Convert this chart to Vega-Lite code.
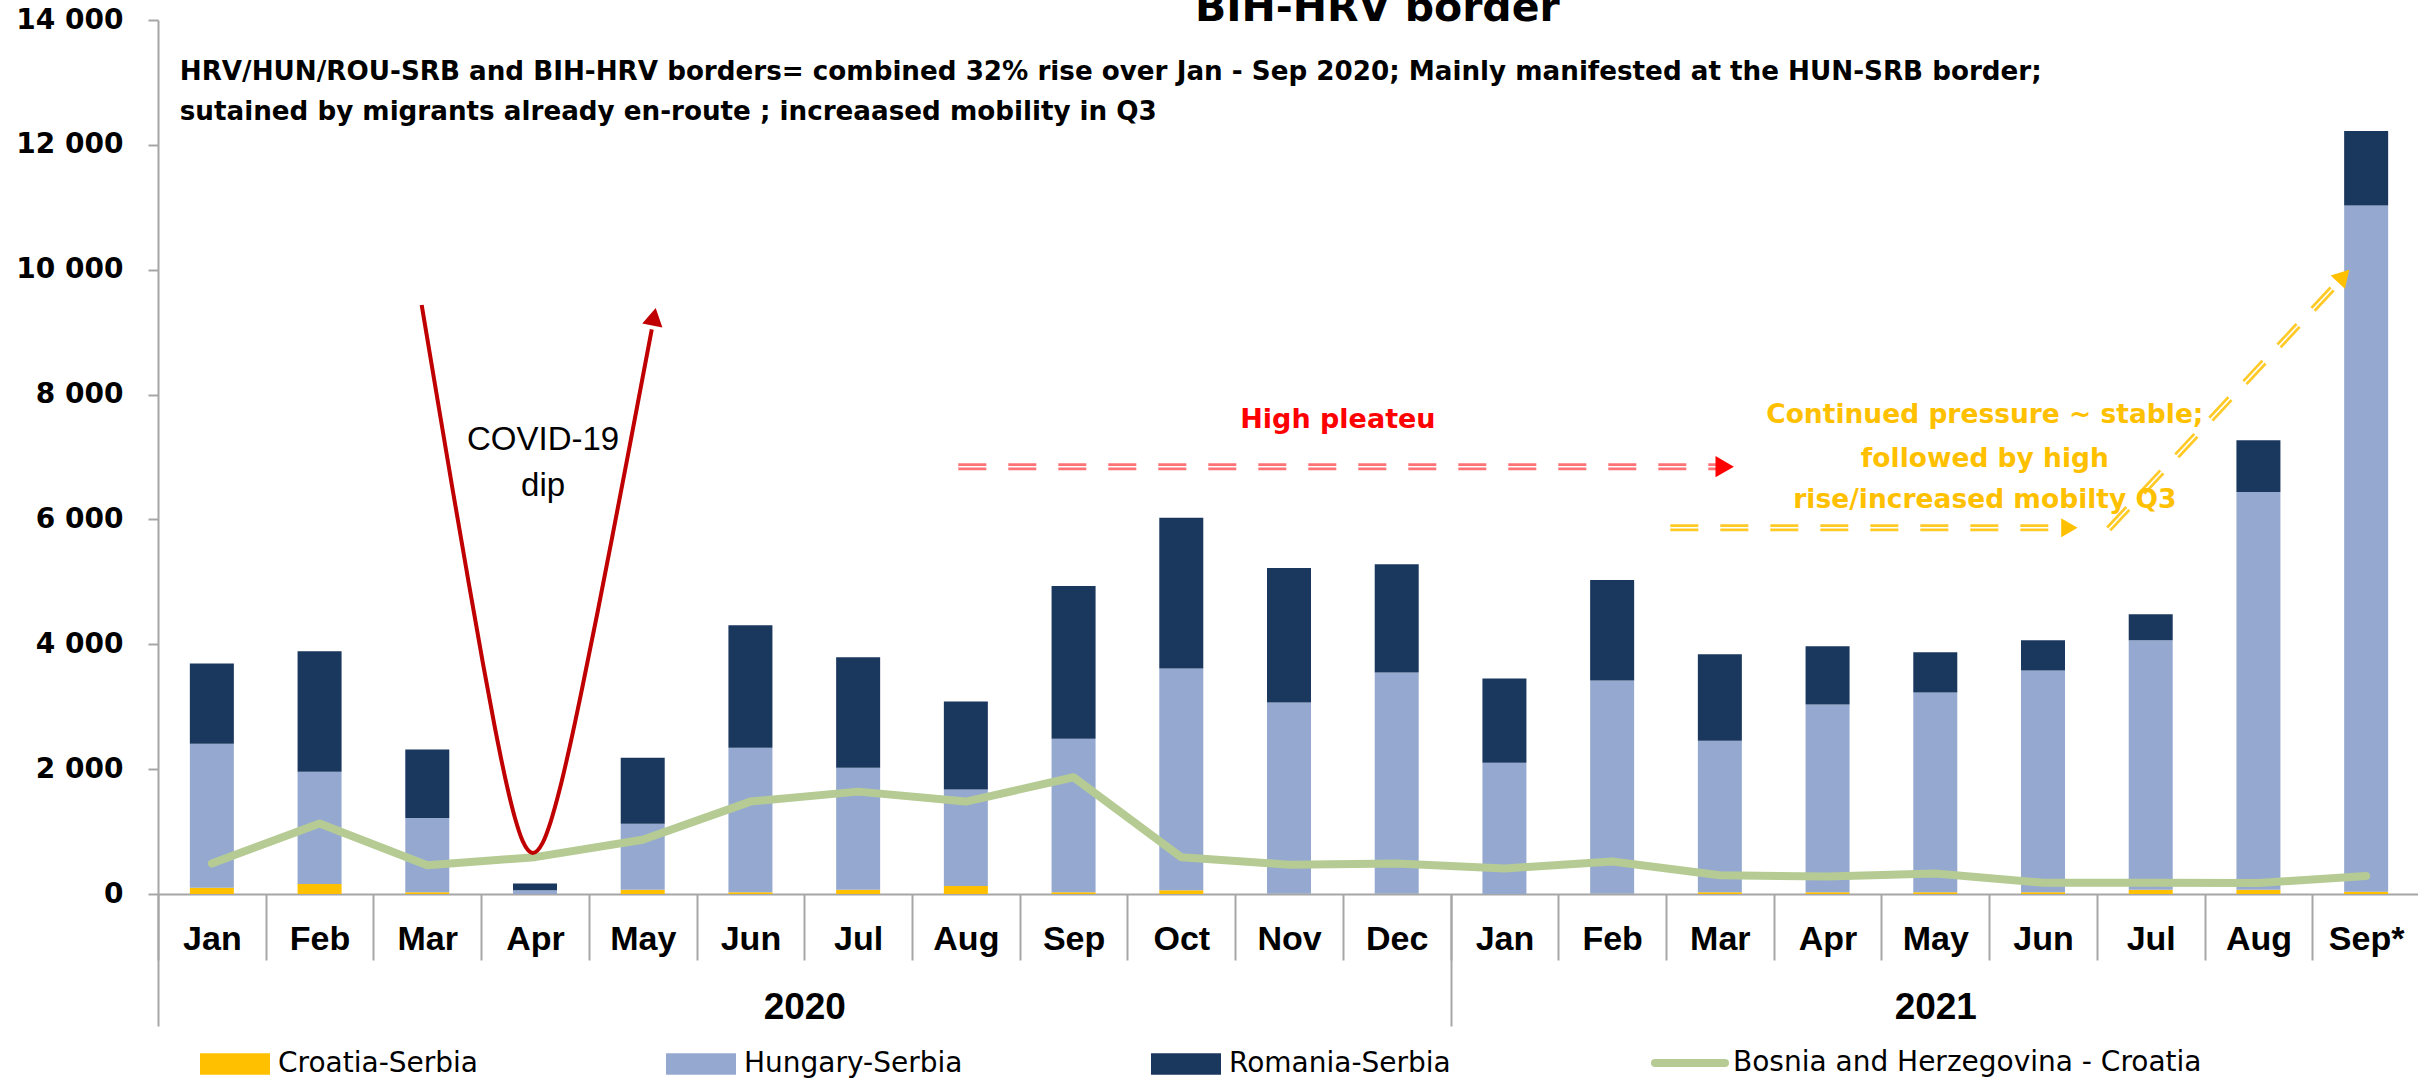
{
  "$schema": "https://vega.github.io/schema/vega-lite/v6.json",
  "width": 2262,
  "height": 874,
  "autosize": {"type": "none"},
  "padding": {"left": 158, "top": 20, "right": 0, "bottom": 187},
  "background": "white",
  "config": {"view": {"stroke": null}, "scale": {"continuousPadding": 0}},
  "datasets": {
    "bars": [
      {"i": 0, "s": "Croatia-Serbia", "k": 1, "v": 100}, {"i": 0, "s": "Hungary-Serbia", "k": 2, "v": 2307}, {"i": 0, "s": "Romania-Serbia", "k": 3, "v": 1287},
      {"i": 1, "s": "Croatia-Serbia", "k": 1, "v": 160}, {"i": 1, "s": "Hungary-Serbia", "k": 2, "v": 1797}, {"i": 1, "s": "Romania-Serbia", "k": 3, "v": 1930},
      {"i": 2, "s": "Croatia-Serbia", "k": 1, "v": 30}, {"i": 2, "s": "Hungary-Serbia", "k": 2, "v": 1187}, {"i": 2, "s": "Romania-Serbia", "k": 3, "v": 1099},
      {"i": 3, "s": "Croatia-Serbia", "k": 1, "v": 0}, {"i": 3, "s": "Hungary-Serbia", "k": 2, "v": 60}, {"i": 3, "s": "Romania-Serbia", "k": 3, "v": 110},
      {"i": 4, "s": "Croatia-Serbia", "k": 1, "v": 70}, {"i": 4, "s": "Hungary-Serbia", "k": 2, "v": 1056}, {"i": 4, "s": "Romania-Serbia", "k": 3, "v": 1056},
      {"i": 5, "s": "Croatia-Serbia", "k": 1, "v": 30}, {"i": 5, "s": "Hungary-Serbia", "k": 2, "v": 2313}, {"i": 5, "s": "Romania-Serbia", "k": 3, "v": 1963},
      {"i": 6, "s": "Croatia-Serbia", "k": 1, "v": 70}, {"i": 6, "s": "Hungary-Serbia", "k": 2, "v": 1951}, {"i": 6, "s": "Romania-Serbia", "k": 3, "v": 1770},
      {"i": 7, "s": "Croatia-Serbia", "k": 1, "v": 130}, {"i": 7, "s": "Hungary-Serbia", "k": 2, "v": 1543}, {"i": 7, "s": "Romania-Serbia", "k": 3, "v": 1410},
      {"i": 8, "s": "Croatia-Serbia", "k": 1, "v": 30}, {"i": 8, "s": "Hungary-Serbia", "k": 2, "v": 2458}, {"i": 8, "s": "Romania-Serbia", "k": 3, "v": 2445},
      {"i": 9, "s": "Croatia-Serbia", "k": 1, "v": 60}, {"i": 9, "s": "Hungary-Serbia", "k": 2, "v": 3554}, {"i": 9, "s": "Romania-Serbia", "k": 3, "v": 2413},
      {"i": 10, "s": "Croatia-Serbia", "k": 1, "v": 5}, {"i": 10, "s": "Hungary-Serbia", "k": 2, "v": 3062}, {"i": 10, "s": "Romania-Serbia", "k": 3, "v": 2155},
      {"i": 11, "s": "Croatia-Serbia", "k": 1, "v": 5}, {"i": 11, "s": "Hungary-Serbia", "k": 2, "v": 3545}, {"i": 11, "s": "Romania-Serbia", "k": 3, "v": 1732},
      {"i": 12, "s": "Croatia-Serbia", "k": 1, "v": 0}, {"i": 12, "s": "Hungary-Serbia", "k": 2, "v": 2102}, {"i": 12, "s": "Romania-Serbia", "k": 3, "v": 1351},
      {"i": 13, "s": "Croatia-Serbia", "k": 1, "v": 5}, {"i": 13, "s": "Hungary-Serbia", "k": 2, "v": 3416}, {"i": 13, "s": "Romania-Serbia", "k": 3, "v": 1608},
      {"i": 14, "s": "Croatia-Serbia", "k": 1, "v": 30}, {"i": 14, "s": "Hungary-Serbia", "k": 2, "v": 2426}, {"i": 14, "s": "Romania-Serbia", "k": 3, "v": 1383},
      {"i": 15, "s": "Croatia-Serbia", "k": 1, "v": 30}, {"i": 15, "s": "Hungary-Serbia", "k": 2, "v": 3005}, {"i": 15, "s": "Romania-Serbia", "k": 3, "v": 933},
      {"i": 16, "s": "Croatia-Serbia", "k": 1, "v": 30}, {"i": 16, "s": "Hungary-Serbia", "k": 2, "v": 3198}, {"i": 16, "s": "Romania-Serbia", "k": 3, "v": 643},
      {"i": 17, "s": "Croatia-Serbia", "k": 1, "v": 30}, {"i": 17, "s": "Hungary-Serbia", "k": 2, "v": 3552}, {"i": 17, "s": "Romania-Serbia", "k": 3, "v": 482},
      {"i": 18, "s": "Croatia-Serbia", "k": 1, "v": 70}, {"i": 18, "s": "Hungary-Serbia", "k": 2, "v": 3994}, {"i": 18, "s": "Romania-Serbia", "k": 3, "v": 419},
      {"i": 19, "s": "Croatia-Serbia", "k": 1, "v": 70}, {"i": 19, "s": "Hungary-Serbia", "k": 2, "v": 6370}, {"i": 19, "s": "Romania-Serbia", "k": 3, "v": 830},
      {"i": 20, "s": "Croatia-Serbia", "k": 1, "v": 35}, {"i": 20, "s": "Hungary-Serbia", "k": 2, "v": 10995}, {"i": 20, "s": "Romania-Serbia", "k": 3, "v": 1190}
    ],
    "bih": [
      {"i": 0, "s": "Bosnia and Herzegovina - Croatia", "v": 490},
      {"i": 1, "s": "Bosnia and Herzegovina - Croatia", "v": 1130},
      {"i": 2, "s": "Bosnia and Herzegovina - Croatia", "v": 460},
      {"i": 3, "s": "Bosnia and Herzegovina - Croatia", "v": 590},
      {"i": 4, "s": "Bosnia and Herzegovina - Croatia", "v": 870},
      {"i": 5, "s": "Bosnia and Herzegovina - Croatia", "v": 1480},
      {"i": 6, "s": "Bosnia and Herzegovina - Croatia", "v": 1640},
      {"i": 7, "s": "Bosnia and Herzegovina - Croatia", "v": 1480},
      {"i": 8, "s": "Bosnia and Herzegovina - Croatia", "v": 1870},
      {"i": 9, "s": "Bosnia and Herzegovina - Croatia", "v": 590},
      {"i": 10, "s": "Bosnia and Herzegovina - Croatia", "v": 470},
      {"i": 11, "s": "Bosnia and Herzegovina - Croatia", "v": 490},
      {"i": 12, "s": "Bosnia and Herzegovina - Croatia", "v": 410},
      {"i": 13, "s": "Bosnia and Herzegovina - Croatia", "v": 520},
      {"i": 14, "s": "Bosnia and Herzegovina - Croatia", "v": 300},
      {"i": 15, "s": "Bosnia and Herzegovina - Croatia", "v": 280},
      {"i": 16, "s": "Bosnia and Herzegovina - Croatia", "v": 330},
      {"i": 17, "s": "Bosnia and Herzegovina - Croatia", "v": 180},
      {"i": 18, "s": "Bosnia and Herzegovina - Croatia", "v": 180},
      {"i": 19, "s": "Bosnia and Herzegovina - Croatia", "v": 175},
      {"i": 20, "s": "Bosnia and Herzegovina - Croatia", "v": 290}
    ]
  },
  "resolve": {"axis": {"x": "independent"}},
  "layer": [
    {
      "data": {"name": "bars"},
      "mark": {"type": "bar", "width": 44},
      "encoding": {
        "x": {
          "field": "i", "type": "quantitative", "title": null,
          "scale": {"domain": [-0.5, 20.5], "nice": false, "zero": false, "padding": 0},
          "axis": {
            "orient": "bottom", "values": [0, 1, 2, 3, 4, 5, 6, 7, 8, 9, 10, 11, 12, 13, 14, 15, 16, 17, 18, 19, 20],
            "ticks": false, "domain": true, "domainColor": "#A6A6A6", "domainWidth": 2,
            "labelFont": "Liberation Sans", "labelFontWeight": "bold", "labelFontSize": 34, "labelColor": "#000000",
            "labelPadding": 28, "labelAngle": 0, "labelFlush": false, "labelOverlap": false, "labelBound": false, "grid": false, "title": null,
            "labelExpr": "datum.value == 20 ? 'Sep*' : ['Jan','Feb','Mar','Apr','May','Jun','Jul','Aug','Sep','Oct','Nov','Dec'][datum.value % 12]"
          }
        },
        "y": {
          "field": "v", "type": "quantitative", "stack": "zero", "title": null,
          "scale": {"domain": [0, 14000], "nice": false, "zero": true},
          "axis": {
            "orient": "left", "values": [0, 2000, 4000, 6000, 8000, 10000, 12000, 14000],
            "labelExpr": "replace(format(datum.value, ','), ',', ' ')",
            "labelFont": "DejaVu Sans", "labelFontWeight": "bold", "labelFontSize": 28, "labelColor": "#000000",
            "labelPadding": 25, "tickSize": 10, "tickColor": "#A6A6A6", "tickWidth": 2, "ticks": true, "domain": true,
            "domainColor": "#A6A6A6", "domainWidth": 2, "grid": false, "title": null, "labelFlush": false, "labelOverlap": false
          }
        },
        "color": {
          "field": "s", "type": "nominal",
          "scale": {
            "domain": ["Croatia-Serbia", "Hungary-Serbia", "Romania-Serbia", "Bosnia and Herzegovina - Croatia"],
            "range": ["#FFC000", "#95A9D0", "#1A375E", "#B5CB93"]
          },
          "legend": {
            "orient": "none", "legendX": 63, "legendY": 1029, "direction": "horizontal", "title": null,
            "labelFont": "DejaVu Sans", "labelFontSize": 28, "labelColor": "#000000", "labelLimit": 700,
            "symbolSize": 4900, "labelOffset": 29, "columnPadding": 188, "padding": 0,
            "symbolType": "M-1,-0.31H1V0.31H-1Z", "symbolStrokeWidth": 0,
            "encode": {
              "symbols": {
                "update": {
                  "shape": {"signal": "datum.value == 'Bosnia and Herzegovina - Croatia' ? 'M-1,0H1' : 'M-1,-0.31H1V0.31H-1Z'"},
                  "stroke": {"signal": "scale('color', datum.value)"},
                  "fill": {"signal": "scale('color', datum.value)"},
                  "strokeWidth": {"signal": "datum.value == 'Bosnia and Herzegovina - Croatia' ? 8 : 0"},
                  "strokeCap": {"value": "round"},
                  "opacity": {"value": 1}
                }
              }
            }
          }
        },
        "order": {"field": "k", "type": "quantitative"}
      }
    },
    {
      "data": {"name": "bih"},
      "mark": {"type": "line", "strokeWidth": 8, "strokeCap": "round", "strokeJoin": "round"},
      "encoding": {
        "x": {"field": "i", "type": "quantitative", "title": null, "axis": null, "scale": {"domain": [-0.5, 20.5], "nice": false, "zero": false, "padding": 0}},
        "y": {"field": "v", "type": "quantitative", "title": null, "scale": {"domain": [0, 14000], "nice": false, "zero": true}},
        "color": {"field": "s", "type": "nominal", "scale": {
            "domain": ["Croatia-Serbia", "Hungary-Serbia", "Romania-Serbia", "Bosnia and Herzegovina - Croatia"],
            "range": ["#FFC000", "#95A9D0", "#1A375E", "#B5CB93"]}}
      }
    },
    {
      "data": {"values": [
        {"xi": 1.948, "v": 9435}, {"xi": 2.097, "v": 7897}, {"xi": 2.236, "v": 6471}, {"xi": 2.376, "v": 5070},
        {"xi": 2.515, "v": 3711}, {"xi": 2.626, "v": 2681}, {"xi": 2.728, "v": 1823}, {"xi": 2.812, "v": 1230},
        {"xi": 2.886, "v": 847}, {"xi": 2.979, "v": 657}, {"xi": 3.072, "v": 823}, {"xi": 3.146, "v": 1161},
        {"xi": 3.230, "v": 1680}, {"xi": 3.332, "v": 2435}, {"xi": 3.443, "v": 3340}, {"xi": 3.583, "v": 4533},
        {"xi": 3.722, "v": 5763}, {"xi": 3.861, "v": 7014}, {"xi": 4.000, "v": 8280}, {"xi": 4.084, "v": 9044}
      ]},
      "mark": {"type": "line", "color": "#C00000", "strokeWidth": 4, "interpolate": "monotone"},
      "encoding": {
        "x": {"field": "xi", "type": "quantitative", "title": null,
          "scale": {"domain": [-0.5, 20.5], "nice": false, "zero": false, "padding": 0},
          "axis": {
            "orient": "bottom", "values": [-0.5, 0.5, 1.5, 2.5, 3.5, 4.5, 5.5, 6.5, 7.5, 8.5, 9.5, 10.5, 11.5, 12.5, 13.5, 14.5, 15.5, 16.5, 17.5, 18.5, 19.5, 20.5],
            "labels": false, "domain": false, "grid": false, "ticks": true, "tickColor": "#A6A6A6", "tickWidth": 2, "tickSize": 66,
            "title": null
          }
        },
        "y": {"field": "v", "type": "quantitative", "title": null, "scale": {"domain": [0, 14000], "nice": false, "zero": true}}
      }
    },
    {
      "data": {"values": [{"xi": 4.105, "v": 9246}]},
      "mark": {"type": "point", "shape": "triangle-up", "angle": 11, "size": 420, "filled": true, "color": "#C00000", "opacity": 1},
      "encoding": {
        "x": {"field": "xi", "type": "quantitative", "title": null,
          "scale": {"domain": [-0.5, 20.5], "nice": false, "zero": false, "padding": 0},
          "axis": {
            "orient": "bottom", "values": [-0.5, 11.5],
            "labels": false, "domain": false, "grid": false, "ticks": true, "tickColor": "#A6A6A6", "tickWidth": 2, "tickSize": 132,
            "title": null
          }
        },
        "y": {"field": "v", "type": "quantitative", "title": null, "scale": {"domain": [0, 14000], "nice": false, "zero": true}}
      }
    },
    {
      "data": {"values": [{"xi": 6.93, "v": 6845}, {"xi": 14.0, "v": 6845}]},
      "mark": {"type": "line", "color": "#FF5A5F", "opacity": 0.85, "strokeWidth": 7, "strokeDash": [28, 22]},
      "encoding": {
        "x": {"field": "xi", "type": "quantitative", "title": null, "axis": null, "scale": {"domain": [-0.5, 20.5], "nice": false, "zero": false, "padding": 0}},
        "y": {"field": "v", "type": "quantitative", "title": null, "scale": {"domain": [0, 14000], "nice": false, "zero": true}}
      }
    },
    {
      "data": {"values": [{"xi": 13.54, "v": 5867}, {"xi": 17.22, "v": 5867}]},
      "mark": {"type": "line", "color": "#FFC000", "opacity": 0.85, "strokeWidth": 7, "strokeDash": [28, 22]},
      "encoding": {
        "x": {"field": "xi", "type": "quantitative", "title": null, "axis": null, "scale": {"domain": [-0.5, 20.5], "nice": false, "zero": false, "padding": 0}},
        "y": {"field": "v", "type": "quantitative", "title": null, "scale": {"domain": [0, 14000], "nice": false, "zero": true}}
      }
    },
    {
      "data": {"values": [{"xi": 17.61, "v": 5847}, {"xi": 19.72, "v": 9760}]},
      "mark": {"type": "line", "color": "#FFC000", "opacity": 0.85, "strokeWidth": 7, "strokeDash": [28, 22]},
      "encoding": {
        "x": {"field": "xi", "type": "quantitative", "title": null, "axis": null, "scale": {"domain": [-0.5, 20.5], "nice": false, "zero": false, "padding": 0}},
        "y": {"field": "v", "type": "quantitative", "title": null, "scale": {"domain": [0, 14000], "nice": false, "zero": true}}
      }
    },
    {
      "data": {"values": [
        {"g": "a", "xi": 6.93, "v": 6845}, {"g": "a", "xi": 14.0, "v": 6845},
        {"g": "b", "xi": 13.54, "v": 5867}, {"g": "b", "xi": 17.22, "v": 5867},
        {"g": "c", "xi": 17.61, "v": 5847}, {"g": "c", "xi": 19.72, "v": 9760}
      ]},
      "mark": {"type": "line", "color": "#FFFFFF", "strokeWidth": 1.6},
      "encoding": {
        "x": {"field": "xi", "type": "quantitative", "title": null, "axis": null, "scale": {"domain": [-0.5, 20.5], "nice": false, "zero": false, "padding": 0}},
        "y": {"field": "v", "type": "quantitative", "title": null, "scale": {"domain": [0, 14000], "nice": false, "zero": true}},
        "detail": {"field": "g", "type": "nominal"}
      }
    },
    {
      "data": {"values": [{"xi": 14.045, "v": 6845}]},
      "mark": {"type": "point", "shape": "triangle-right", "size": 450, "filled": true, "color": "#FF0000", "opacity": 1},
      "encoding": {
        "x": {"field": "xi", "type": "quantitative", "title": null, "axis": null, "scale": {"domain": [-0.5, 20.5], "nice": false, "zero": false, "padding": 0}},
        "y": {"field": "v", "type": "quantitative", "title": null, "scale": {"domain": [0, 14000], "nice": false, "zero": true}}
      }
    },
    {
      "data": {"values": [{"xi": 17.245, "v": 5867}]},
      "mark": {"type": "point", "shape": "triangle-right", "size": 360, "filled": true, "color": "#FFC000", "opacity": 1},
      "encoding": {
        "x": {"field": "xi", "type": "quantitative", "title": null, "axis": null, "scale": {"domain": [-0.5, 20.5], "nice": false, "zero": false, "padding": 0}},
        "y": {"field": "v", "type": "quantitative", "title": null, "scale": {"domain": [0, 14000], "nice": false, "zero": true}}
      }
    },
    {
      "data": {"values": [{"xi": 19.79, "v": 9899}]},
      "mark": {"type": "point", "shape": "triangle-up", "angle": 43, "size": 380, "filled": true, "color": "#FFC000", "opacity": 1},
      "encoding": {
        "x": {"field": "xi", "type": "quantitative", "title": null, "axis": null, "scale": {"domain": [-0.5, 20.5], "nice": false, "zero": false, "padding": 0}},
        "y": {"field": "v", "type": "quantitative", "title": null, "scale": {"domain": [0, 14000], "nice": false, "zero": true}}
      }
    },
    {
      "data": {"values": [{"xi": 10.82, "v": 13984, "t": "BIH-HRV border"}]},
      "mark": {"type": "text", "font": "DejaVu Sans", "fontWeight": "bold", "fontSize": 41, "align": "center", "baseline": "alphabetic", "color": "#000000"},
      "encoding": {
        "x": {"field": "xi", "type": "quantitative", "title": null,
          "scale": {"domain": [-0.5, 20.5], "nice": false, "zero": false, "padding": 0},
          "axis": {
            "orient": "bottom", "values": [5.5, 16], "labelExpr": "datum.value < 10 ? '2020' : '2021'",
            "ticks": false, "domain": false, "grid": false, "labelFont": "Liberation Sans", "labelFontWeight": "bold",
            "labelFontSize": 37, "labelColor": "#000000", "labelPadding": 95, "labelFlush": false, "labelOverlap": false, "title": null
          }
        },
        "y": {"field": "v", "type": "quantitative", "title": null, "scale": {"domain": [0, 14000], "nice": false, "zero": true}},
        "text": {"field": "t"}
      }
    },
    {
      "data": {"values": [
        {"xi": -0.298, "v": 13040, "t": "HRV/HUN/ROU-SRB and BIH-HRV borders= combined 32% rise over Jan - Sep 2020; Mainly manifested at the HUN-SRB border;"},
        {"xi": -0.298, "v": 12398, "t": "sutained by migrants already en-route ; increaased mobility in Q3"}
      ]},
      "mark": {"type": "text", "font": "DejaVu Sans", "fontWeight": "bold", "fontSize": 26.2, "align": "left", "baseline": "alphabetic", "color": "#000000"},
      "encoding": {
        "x": {"field": "xi", "type": "quantitative", "title": null, "axis": null, "scale": {"domain": [-0.5, 20.5], "nice": false, "zero": false, "padding": 0}},
        "y": {"field": "v", "type": "quantitative", "title": null, "scale": {"domain": [0, 14000], "nice": false, "zero": true}},
        "text": {"field": "t"}
      }
    },
    {
      "data": {"values": [{"xi": 3.075, "v": 7112, "t": "COVID-19"}, {"xi": 3.075, "v": 6375, "t": "dip"}]},
      "mark": {"type": "text", "font": "Liberation Sans", "fontSize": 33, "align": "center", "baseline": "alphabetic", "color": "#000000"},
      "encoding": {
        "x": {"field": "xi", "type": "quantitative", "title": null, "axis": null, "scale": {"domain": [-0.5, 20.5], "nice": false, "zero": false, "padding": 0}},
        "y": {"field": "v", "type": "quantitative", "title": null, "scale": {"domain": [0, 14000], "nice": false, "zero": true}},
        "text": {"field": "t"}
      }
    },
    {
      "data": {"values": [{"xi": 10.454, "v": 7464, "t": "High pleateu"}]},
      "mark": {"type": "text", "font": "DejaVu Sans", "fontWeight": "bold", "fontSize": 27, "align": "center", "baseline": "alphabetic", "color": "#FF0000"},
      "encoding": {
        "x": {"field": "xi", "type": "quantitative", "title": null, "axis": null, "scale": {"domain": [-0.5, 20.5], "nice": false, "zero": false, "padding": 0}},
        "y": {"field": "v", "type": "quantitative", "title": null, "scale": {"domain": [0, 14000], "nice": false, "zero": true}},
        "text": {"field": "t"}
      }
    },
    {
      "data": {"values": [
        {"xi": 16.46, "v": 7544, "t": "Continued pressure ~ stable;"},
        {"xi": 16.46, "v": 6840, "t": "followed by high"},
        {"xi": 16.46, "v": 6183, "t": "rise/increased mobilty Q3"}
      ]},
      "mark": {"type": "text", "font": "DejaVu Sans", "fontWeight": "bold", "fontSize": 26.5, "align": "center", "baseline": "alphabetic", "color": "#FFC000"},
      "encoding": {
        "x": {"field": "xi", "type": "quantitative", "title": null, "axis": null, "scale": {"domain": [-0.5, 20.5], "nice": false, "zero": false, "padding": 0}},
        "y": {"field": "v", "type": "quantitative", "title": null, "scale": {"domain": [0, 14000], "nice": false, "zero": true}},
        "text": {"field": "t"}
      }
    }
  ]
}
